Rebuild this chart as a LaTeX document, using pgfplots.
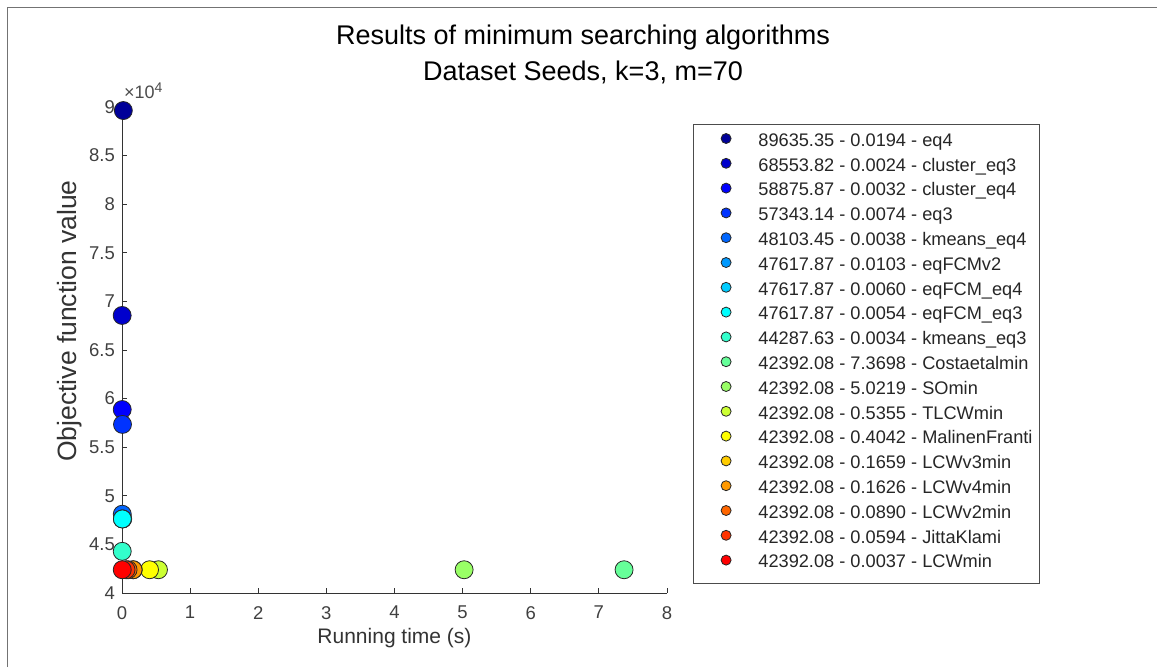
\documentclass[border=0pt]{standalone}
\usepackage{fontspec}
\setmainfont{Liberation Sans}
\usepackage{pgfplots}
\pgfplotsset{compat=1.18}
\definecolor{c1}{rgb}{0,0,0.6}
\definecolor{c2}{rgb}{0,0,0.8}
\definecolor{c3}{rgb}{0,0,1}
\definecolor{c4}{rgb}{0,0.2,1}
\definecolor{c5}{rgb}{0,0.4,1}
\definecolor{c6}{rgb}{0,0.6,1}
\definecolor{c7}{rgb}{0,0.8,1}
\definecolor{c8}{rgb}{0,1,1}
\definecolor{c9}{rgb}{0.2,1,0.8}
\definecolor{c10}{rgb}{0.4,1,0.6}
\definecolor{c11}{rgb}{0.6,1,0.4}
\definecolor{c12}{rgb}{0.8,1,0.2}
\definecolor{c13}{rgb}{1,1,0}
\definecolor{c14}{rgb}{1,0.8,0}
\definecolor{c15}{rgb}{1,0.6,0}
\definecolor{c16}{rgb}{1,0.4,0}
\definecolor{c17}{rgb}{1,0.2,0}
\definecolor{c18}{rgb}{1,0,0}
\pgfplotsset{
  mk/.style={only marks, mark=*, mark size=9pt, draw=black!85, line width=0.8pt, fill=#1,
    legend image code/.code={\path[draw=none,fill=none] (-25.7pt,4.8pt) -- (32.3pt,4.8pt); \draw[##1, mark size=5pt] plot coordinates {(0pt,4.8pt)};}},
}
\begin{document}
\begin{tikzpicture}
\useasboundingbox (0,0) rectangle (1157pt,667pt);
\draw[black!55, line width=1.6pt] (7.5pt,0pt) -- (7.5pt,659.5pt) -- (1157pt,659.5pt);
\begin{axis}[
  at={(122pt,74pt)}, anchor=south west,
  scale only axis, width=545pt, height=486pt,
  xmin=0, xmax=8, ymin=40000, ymax=90000,
  clip=false,
  axis lines*=left,
  axis line style={black!80, line width=0.8pt},
  tick style={black!80, line width=0.8pt},
  tick align=inside,
  major tick length=5pt,
  xtick={0,1,...,8},
  ytick={40000,45000,...,90000},
  scaled y ticks=base 10:-4,
  ytick scale label code/.code={×10\raisebox{6pt}{\fontsize{14}{14}\selectfont 4}},
  every y tick scale label/.style={at={(axis description cs:0,1)}, anchor=base west, inner sep=0pt, xshift=2pt, yshift=8pt, font=\fontsize{18}{20}\selectfont, text=black!70},
  /pgf/number format/assume math mode=true,
  /pgf/number format/fixed,
  /pgf/number format/precision=1,
  tick label style={inner sep=0pt, font=\fontsize{18.5}{22}\selectfont, text=black!75},
  xticklabel shift=13pt,
  yticklabel shift=7pt,
  xlabel={Running time (s)},
  xlabel style={at={(axis description cs:0.5,0)}, anchor=base, yshift=-50pt, inner sep=0pt, font=\fontsize{21}{24}\selectfont, text=black!80},
  ylabel={Objective function value},
  ylabel style={at={(axis description cs:-0.0826,0.5597)}, anchor=base, rotate=0, inner sep=0pt, font=\fontsize{26.5}{30}\selectfont, text=black!80},
  title={Results of minimum searching algorithms\\Dataset Seeds, k=3, m=70},
  title style={at={(axis description cs:0.8459,1)}, anchor=north, yshift=76.5pt, align=center, inner sep=0pt, font=\fontsize{27}{36}\selectfont},
  legend cell align=left,
  legend style={at={(axis description cs:1.0477,0.965)}, anchor=north west,
    draw=black!70, line width=0.8pt, inner xsep=7pt, inner ysep=6.5pt,
    font=\fontsize{18.2}{22}\selectfont, text=black!85,
    nodes={inner sep=0pt, text height=15.4pt, text depth=9.4pt}},
]
\addplot[mk=c1] coordinates {(0.0194,89635.35)};
\addlegendentry{89635.35 - 0.0194 - eq4}
\addplot[mk=c2] coordinates {(0.0024,68553.82)};
\addlegendentry{68553.82 - 0.0024 - cluster\_eq3}
\addplot[mk=c3] coordinates {(0.0032,58875.87)};
\addlegendentry{58875.87 - 0.0032 - cluster\_eq4}
\addplot[mk=c4] coordinates {(0.0074,57343.14)};
\addlegendentry{57343.14 - 0.0074 - eq3}
\addplot[mk=c5] coordinates {(0.0038,48103.45)};
\addlegendentry{48103.45 - 0.0038 - kmeans\_eq4}
\addplot[mk=c6] coordinates {(0.0103,47617.87)};
\addlegendentry{47617.87 - 0.0103 - eqFCMv2}
\addplot[mk=c7] coordinates {(0.0060,47617.87)};
\addlegendentry{47617.87 - 0.0060 - eqFCM\_eq4}
\addplot[mk=c8] coordinates {(0.0054,47617.87)};
\addlegendentry{47617.87 - 0.0054 - eqFCM\_eq3}
\addplot[mk=c9] coordinates {(0.0034,44287.63)};
\addlegendentry{44287.63 - 0.0034 - kmeans\_eq3}
\addplot[mk=c10] coordinates {(7.3698,42392.08)};
\addlegendentry{42392.08 - 7.3698 - Costaetalmin}
\addplot[mk=c11] coordinates {(5.0219,42392.08)};
\addlegendentry{42392.08 - 5.0219 - SOmin}
\addplot[mk=c12] coordinates {(0.5355,42392.08)};
\addlegendentry{42392.08 - 0.5355 - TLCWmin}
\addplot[mk=c13] coordinates {(0.4042,42392.08)};
\addlegendentry{42392.08 - 0.4042 - MalinenFranti}
\addplot[mk=c14] coordinates {(0.1659,42392.08)};
\addlegendentry{42392.08 - 0.1659 - LCWv3min}
\addplot[mk=c15] coordinates {(0.1626,42392.08)};
\addlegendentry{42392.08 - 0.1626 - LCWv4min}
\addplot[mk=c16] coordinates {(0.0890,42392.08)};
\addlegendentry{42392.08 - 0.0890 - LCWv2min}
\addplot[mk=c17] coordinates {(0.0594,42392.08)};
\addlegendentry{42392.08 - 0.0594 - JittaKlami}
\addplot[mk=c18] coordinates {(0.0037,42392.08)};
\addlegendentry{42392.08 - 0.0037 - LCWmin}
\end{axis}
\end{tikzpicture}
\end{document}
